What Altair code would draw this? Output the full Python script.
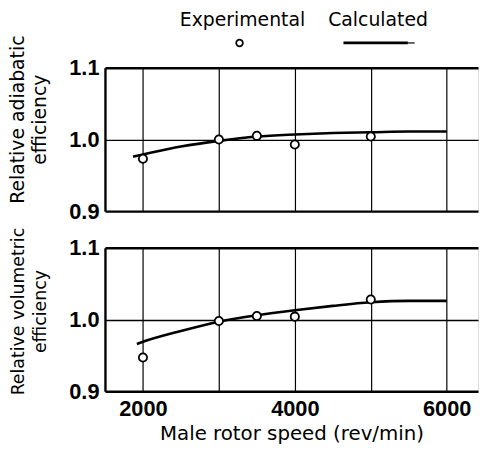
import altair as alt
import pandas as pd

# Experimental points
speed_exp = [2000, 3000, 3500, 4000, 5000]
adiabatic_exp = [0.973, 1.000, 1.005, 0.993, 1.004]
volumetric_exp = [0.947, 0.998, 1.005, 1.004, 1.028]

# Calculated curves
speed_calc_top = [1870, 2000, 2500, 3000, 3500, 4000, 4500, 5000, 5500, 6000]
adiabatic_calc = [0.976, 0.979, 0.990, 0.998, 1.004, 1.007, 1.009, 1.010, 1.011, 1.011]
speed_calc_bot = [1920, 2000, 2500, 3000, 3500, 4000, 4500, 5000, 5500, 6000]
volumetric_calc = [0.966, 0.969, 0.984, 0.997, 1.006, 1.013, 1.019, 1.024, 1.026, 1.026]

x_grid = [2000, 3000, 4000, 5000, 6000]
y_ticks = [0.9, 1.0, 1.1]
legend_labels = ["Experimental", "Calculated"]

TITLE_FONT = "DejaVu Sans"
LABEL_FONT = "Liberation Sans"

W, H = 377, 145
xscale = alt.Scale(domain=[1500, 6412], nice=False, zero=False)
yscale = alt.Scale(domain=[0.9, 1.1], nice=False, zero=False)

frame_w = {"condition": {"test": "datum.value == 1", "value": 1.3}, "value": 2.4}


def panel(exp_vals, calc_speed, calc_vals, ytitle, ytitle_size, ytitle_y,
          bottom, legend=False):
    exp_df = pd.DataFrame({"speed": speed_exp, "value": exp_vals})
    calc_df = pd.DataFrame({"speed": calc_speed, "value": calc_vals})
    xaxis = alt.Axis(
        values=x_grid, grid=True, ticks=False, domain=False,
        labels=bottom, format="d",
        labelExpr="datum.value % 2000 == 0 ? datum.label : ''",
        labelFont=LABEL_FONT, labelFontSize=22, labelFontWeight="bold",
        labelColor="black", labelPadding=7,
        title="Male rotor speed (rev/min)" if bottom else None,
        titleFont=TITLE_FONT, titleFontSize=20, titleFontWeight="normal",
        titleColor="black", titleBaseline="bottom", titleY=53,
        gridColor="black", gridWidth=1.2, gridOpacity=1,
    )
    yaxis = alt.Axis(
        values=y_ticks, grid=True, ticks=False, domain=True,
        domainColor="black", domainWidth=2.4, format=".1f",
        labelFont=LABEL_FONT, labelFontSize=22, labelFontWeight="bold",
        labelColor="black", labelPadding=6,
        title=ytitle, titleFont=TITLE_FONT, titleFontSize=ytitle_size,
        titleFontWeight="normal", titleColor="black",
        titleAngle=270, titleBaseline="bottom", titleAlign="center",
        titleX=-78, titleY=ytitle_y, titleLineHeight=22,
        gridColor="black", gridWidth=frame_w, gridOpacity=1,
    )
    line = alt.Chart(calc_df).mark_line(
        color="black", strokeWidth=2.6, interpolate="monotone"
    ).encode(
        x=alt.X("speed:Q", scale=xscale, axis=xaxis),
        y=alt.Y("value:Q", scale=yscale, axis=yaxis),
    )
    pts = alt.Chart(exp_df).mark_point(
        shape="circle", filled=True, fill="white", stroke="black",
        strokeWidth=1.8, size=70, opacity=1
    ).encode(x=alt.X("speed:Q", scale=xscale), y=alt.Y("value:Q", scale=yscale))
    layers = [line, pts]
    if legend:
        lab_df = pd.DataFrame({"label": legend_labels, "px": [139, 276]})
        txt = alt.Chart(lab_df).mark_text(
            font=TITLE_FONT, fontSize=19, color="black", baseline="top",
            align="center"
        ).encode(x=alt.X("px:Q", scale=None), y=alt.value(-57), text="label:N")
        circ = alt.Chart(lab_df.iloc[:1]).mark_point(
            shape="circle", filled=True, fill="white", stroke="black",
            strokeWidth=1.8, size=45, opacity=1
        ).encode(x=alt.value(136), y=alt.value(-25))
        thick = alt.Chart(lab_df.iloc[1:]).mark_rule(
            color="black", strokeWidth=2.8
        ).encode(x=alt.value(241), x2=alt.value(306), y=alt.value(-25))
        thin = alt.Chart(lab_df.iloc[1:]).mark_rule(
            color="black", strokeWidth=1.2
        ).encode(x=alt.value(305), x2=alt.value(313), y=alt.value(-25))
        layers += [txt, circ, thick, thin]
    return alt.layer(*layers).properties(width=W, height=H)


top = panel(adiabatic_exp, speed_calc_top, adiabatic_calc,
            ["Relative adiabatic", "efficiency"], 19, 52,
            bottom=False, legend=True)
bot = panel(volumetric_exp, speed_calc_bot, volumetric_calc,
            ["Relative volumetric", "efficiency"], 17.5, 64, bottom=True)

chart = alt.vconcat(top, bot, spacing=37, bounds="flush").properties(
    padding={"left": 0, "top": 0, "right": 0, "bottom": 0}
).configure_view(
    stroke=None
).configure(background="white")

chart.save("out.html", embed_options={"renderer": "svg", "actions": False})
